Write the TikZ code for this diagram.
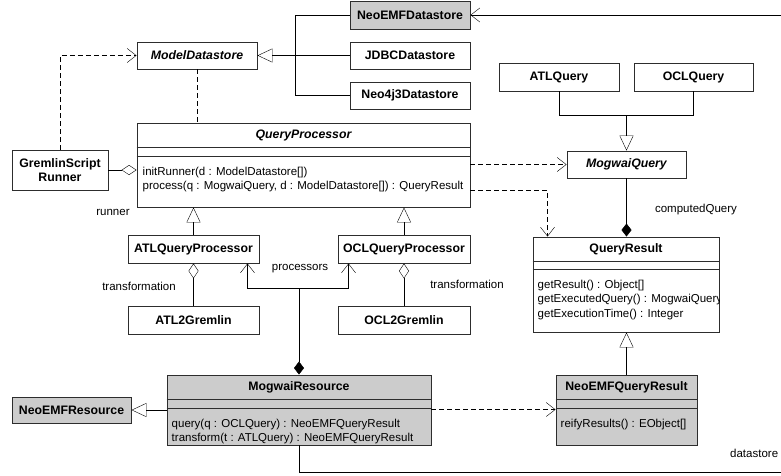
\documentclass[tikz,border=0pt]{standalone}
\usepackage{fontspec}
\setmainfont{Liberation Sans}
\usepackage{xcolor}
\usetikzlibrary{arrows.meta, positioning}

\definecolor{umlgray}{RGB}{204,204,204}
\definecolor{umlline}{RGB}{45,45,45}

\begin{document}
\begin{tikzpicture}[
  x=1pt, y=-1pt,
  cls/.style={draw=umlline, line width=0.95pt, fill=white, inner sep=0pt, align=center,
    font=\fontsize{12.3}{14}\selectfont\bfseries},
  abs/.style={cls, font=\fontsize{12.3}{14}\selectfont\bfseries\itshape},
  ext/.style={cls, fill=umlgray},
  ops/.style={inner sep=0pt, align=left, anchor=north west, font=\fontsize{11.5}{14.5}\selectfont},
  lbl/.style={inner sep=0pt, font=\fontsize{11.5}{14}\selectfont},
  gen/.style={-{Triangle[open, length=15pt, width=14pt]}},
  dep/.style={dash pattern=on 5pt off 3pt, -{Straight Barb[length=9pt, width=14pt]}},
  agg/.style={-{Diamond[open, length=15pt, width=10pt]}},
  comp/.style={{Diamond[length=13pt, width=10pt]}-},
  nav/.style={-{Straight Barb[length=9pt, width=14pt]}}
]
\useasboundingbox (0,0) rectangle (781,475);
\clip (0,0) rectangle (781,475);

% datastores
\node[ext, minimum width=120, minimum height=28] (neoemfds) at (410,15) {NeoEMFDatastore};
\node[cls, minimum width=120, minimum height=27] (jdbcds) at (410,55.5) {JDBCDatastore};
\node[cls, minimum width=120, minimum height=27] (neo4jds) at (410,95.5) {Neo4j3Datastore};
\node[abs, minimum width=120, minimum height=27] (mds) at (197,55.5) {ModelDatastore};
\node[cls, minimum width=96, minimum height=40] (gsr) at (60,170) {GremlinScript\\Runner};

% query processor
\node[cls, minimum width=333, minimum height=84] (qp) at (303.5,165) {};
\node[abs, draw=none, fill=none] (qpname) at ([yshift=-12.5]qp.north) {QueryProcessor};
\draw[umlline, line width=0.95pt] ([yshift=-25]qp.north west) -- ([yshift=-25]qp.north east);
\draw[umlline, line width=0.95pt] ([yshift=-34]qp.north west) -- ([yshift=-34]qp.north east);
\node[ops] (qpops) at ([xshift=6, yshift=-44]qp.north west)
  {initRunner(d : ModelDatastore[])\\process(q : MogwaiQuery, d : ModelDatastore[]) : QueryResult};

\node[cls, minimum width=131, minimum height=28] (atlqp) at (193.5,249) {ATLQueryProcessor};
\node[cls, minimum width=132, minimum height=28] (oclqp) at (404,249) {OCLQueryProcessor};
\node[cls, minimum width=131, minimum height=28] (atl2g) at (193.5,320) {ATL2Gremlin};
\node[cls, minimum width=132, minimum height=28] (ocl2g) at (404,320) {OCL2Gremlin};

% queries
\node[cls, minimum width=120, minimum height=28] (atlq) at (559,77) {ATLQuery};
\node[cls, minimum width=119, minimum height=28] (oclq) at (693.5,77) {OCLQuery};
\node[abs, minimum width=119, minimum height=27] (mq) at (626.5,164.5) {MogwaiQuery};

% query result
\node[cls, minimum width=186, minimum height=95] (qr) at (626,284.5) {};
\node[cls, draw=none, fill=none] (qrname) at ([yshift=-12.5]qr.north) {QueryResult};
\draw[umlline, line width=0.95pt] ([yshift=-25]qr.north west) -- ([yshift=-25]qr.north east);
\draw[umlline, line width=0.95pt] ([yshift=-33]qr.north west) -- ([yshift=-33]qr.north east);
\begin{scope}
  \clip (qr.north west) rectangle (qr.south east);
  \node[ops] (qrops) at ([xshift=5, yshift=-43]qr.north west)
    {getResult() : Object[]\\getExecutedQuery() : MogwaiQuery\\getExecutionTime() : Integer};
\end{scope}

% resources
\node[ext, minimum width=264, minimum height=70] (mr) at (299,410) {};
\node[cls, draw=none, fill=none] (mrname) at ([yshift=-12.5]mr.north) {MogwaiResource};
\draw[umlline, line width=0.95pt] ([yshift=-25]mr.north west) -- ([yshift=-25]mr.north east);
\draw[umlline, line width=0.95pt] ([yshift=-34]mr.north west) -- ([yshift=-34]mr.north east);
\node[ops] (mrops) at ([xshift=5, yshift=-44]mr.north west)
  {query(q : OCLQuery) : NeoEMFQueryResult\\transform(t : ATLQuery) : NeoEMFQueryResult};

\node[ext, minimum width=119, minimum height=26] (ner) at (71.5,410) {NeoEMFResource};

\node[ext, minimum width=141, minimum height=70] (nqr) at (626.5,410) {};
\node[cls, draw=none, fill=none] (nqrname) at ([yshift=-12.5]nqr.north) {NeoEMFQueryResult};
\draw[umlline, line width=0.95pt] ([yshift=-25]nqr.north west) -- ([yshift=-25]nqr.north east);
\draw[umlline, line width=0.95pt] ([yshift=-34]nqr.north west) -- ([yshift=-34]nqr.north east);
\node[ops] (nqrops) at ([xshift=5, yshift=-44]nqr.north west) {reifyResults() : EObject[]};

% connectors
\coordinate (dsj) at (295,55.5);
\draw (neoemfds.west) -| (dsj);
\draw (neo4jds.west) -| (dsj);
\draw[gen] (jdbcds.west) -- (mds.east);
\draw[dep] (gsr.north) |- (mds.west);
\draw[dash pattern=on 5pt off 3pt] (mds.south) -- (mds.south |- qp.north);
\draw[agg] (gsr.east) -- (gsr.east -| qp.west);
\node[lbl] (runner) at (113,212) {runner};

\draw[gen] (atlqp.north) -- (atlqp.north |- qp.south);
\draw[gen] (oclqp.north) -- (oclqp.north |- qp.south);
\draw[agg] (atl2g.north) -- (atlqp.south);
\draw[agg] (ocl2g.north) -- (oclqp.south);
\node[lbl] (atltrans) at (139,286) {transformation};
\node[lbl] (ocltrans) at (467,284) {transformation};

\coordinate (pj) at (299,288);
\draw[comp] (mr.north) -- (pj);
\draw[nav] (pj) -| ([xshift=-12]atlqp.south east);
\draw[nav] (pj) -| ([xshift=11]oclqp.south west);
\node[lbl] (procs) at (300,269) {processors};

\coordinate (qj) at (626.5,115);
\draw (atlq.south) |- (qj);
\draw (oclq.south) |- (qj);
\draw[gen] (qj) -- (mq.north);
\draw[dep] (mq.west -| qp.east) -- (mq.west);
\draw[dep] ([yshift=-68]qp.north east) -| ([xshift=15]qr.north west);
\draw[-{Diamond[length=13pt, width=10pt]}] (mq.south) -- (mq.south |- qr.north);
\node[lbl] (cq) at (696,210) {computedQuery};

\draw[gen] (nqr.north) -- (nqr.north |- qr.south);
\draw[dep] ([yshift=-35]mr.north east) -- ([yshift=-35]nqr.north west);
\draw[gen] (ner.east -| mr.west) -- (ner.east);

\coordinate (dsr) at (800,472);
\draw[comp, nav] (mr.south) |- (dsr) |- (neoemfds.east);
\node[lbl, anchor=west] (dslbl) at (730,453) {datastore};
\end{tikzpicture}
\end{document}
